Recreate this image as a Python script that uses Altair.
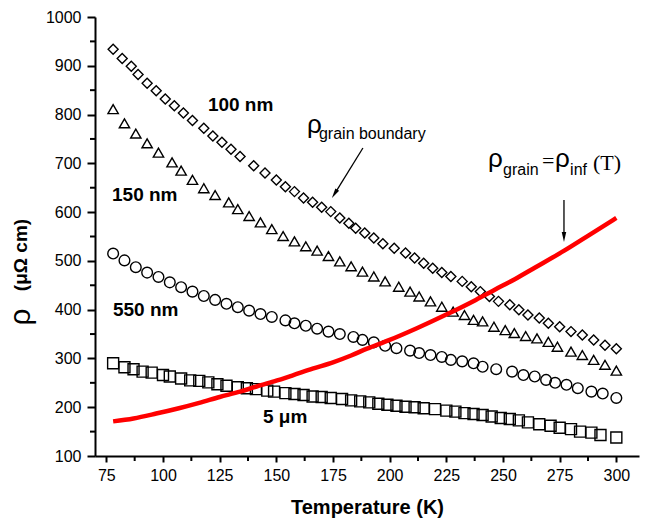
import altair as alt
import pandas as pd

# ---- data ----
T_100 = [78,82,86,89,93,97,101,105,109,113,118,122,126,130,134,140,145,150,154,158,162,166,170,174,178,182,185,189,193,197,202,207,211,215,219,223,227,232,236,240,244,248,253,257,261,266,270,275,280,285,290,295,300]
R_100 = [934,915,899,882,864,849,832,818,803,788,772,756,743,729,714,695,680,666,652,642,629,620,610,601,588,577,567,557,547,535,526,516,506,495,485,476,468,458,447,437,427,417,410,400,389,383,372,365,355,348,338,327,320]

T_150 = [78,83,88,93,98,104,108,113,118,123,129,133,138,143,148,153,158,163,168,173,178,183,188,193,198,204,209,213,218,223,228,233,237,241,246,251,255,260,265,270,274,280,285,290,295,300]
R_150 = [811,782,761,741,722,702,685,666,649,635,620,606,592,579,565,551,540,530,521,510,499,489,478,468,458,447,437,427,417,406,396,389,379,376,365,358,352,346,341,334,324,314,307,297,287,275]

T_550 = [78,83,88,93,98,103,108,113,118,123,128,133,138,143,148,154,158,163,168,173,178,184,188,193,198,203,209,213,218,223,227,232,237,241,247,254,259,264,269,273,278,283,289,294,300]
R_550 = [515,501,487,476,467,456,446,437,428,420,412,405,398,391,385,378,372,367,361,355,350,344,338,333,326,321,316,311,307,303,297,294,290,283,278,273,266,263,256,250,246,239,232,228,219]

T_5um = [78,83,87,91,95,100,103,108,112,116,120,124,128,133,137,141,146,149,154,158,162,166,170,174,179,183,187,191,195,199,203,207,211,215,220,225,229,233,237,241,245,249,253,257,261,266,271,275,280,284,289,293,300]
R_5um = [290,282,278,273,271,266,263,259,255,254,251,247,244,241,239,237,234,232,229,227,225,222,221,219,217,214,212,210,207,205,203,201,200,198,196,193,191,188,186,184,181,178,176,173,169,165,162,158,155,150,148,143,138]

T_grain = [78,87,97,107,116,125,134,141,149,157,166,175,183,190,200,212,225,238,246,255,264,277,288,300]
R_grain = [171,177,187,198,209,221,232,242,253,265,279,292,306,320,338,362,390,420,440,462,486,521,553,588]

series_names = ["100 nm", "150 nm", "550 nm", "5 um"]
series_shapes = ["diamond", "triangle-up", "circle", "square"]
series_sizes = [100, 121, 64, 81]

x_ticks = [75, 100, 125, 150, 175, 200, 225, 250, 275, 300]
x_minor = [87.5, 112.5, 137.5, 162.5, 187.5, 212.5, 237.5, 262.5, 287.5]
y_ticks = [100, 200, 300, 400, 500, 600, 700, 800, 900, 1000]
y_minor = [150, 250, 350, 450, 550, 650, 750, 850, 950]

# size labels (bold)
lab_text = ["100 nm", "150 nm", "550 nm", "5 \u03bcm"]
lab_T = [119.8, 77.5, 77.9, 144.1]
lab_R = [820, 636, 399, 179]

# annotation pieces
big_rho_text = ["\u03c1", "\u03c1", "\u03c1"]
big_rho_T = [163.5, 243.4, 272.9]
big_rho_R = [762, 692.5, 692.5]
sub_text = ["grain boundary", "grain", "inf"]
sub_T = [168.8, 250.0, 279.6]
sub_R = [749, 676, 676]
serif_text = ["=", "(T)"]
serif_T = [267.2, 289.7]
serif_R = [690.4, 686.3]

arrow_T1 = [188.2, 276.9]
arrow_R1 = [731.4, 624.8]
arrow_T2 = [175.7, 276.9]
arrow_R2 = [637.5, 549.0]
arrow_angle = [212, 180]

ytitle_rho = ["\u03c1"]
ytitle_unit = ["(\u03bc\u03a9 cm)"]

# ---- build tables ----
rows = []
for name, Ts, Rs in zip(series_names, [T_100, T_150, T_550, T_5um], [R_100, R_150, R_550, R_5um]):
    for t, r in zip(Ts, Rs):
        rows.append({"series": name, "T": t, "rho": r})
pts = pd.DataFrame(rows)
grain = pd.DataFrame({"T": T_grain, "rho": R_grain})

FONT = "Liberation Sans"
xs = alt.Scale(domain=[70, 310], nice=False, zero=False)
ys = alt.Scale(domain=[100, 1000], nice=False, zero=False)

x_axis = alt.Axis(values=x_ticks, format="d", tickSize=6, tickWidth=2, tickColor="black",
                  domainWidth=2, domainColor="black", grid=False,
                  labelFont=FONT, labelFontSize=16, labelColor="black", labelPadding=5,
                  title="Temperature (K)", titleFont=FONT, titleFontSize=20,
                  titleFontWeight="bold", titleColor="black", titlePadding=14)
y_axis = alt.Axis(values=y_ticks, format="d", tickSize=8, tickWidth=2, tickColor="black",
                  domainWidth=2, domainColor="black", grid=False,
                  labelFont=FONT, labelFontSize=16, labelColor="black", labelPadding=6,
                  title=None)

points = alt.Chart(pts).mark_point(filled=False, strokeWidth=1.4, color="black", opacity=1).encode(
    x=alt.X("T:Q", scale=xs, axis=x_axis),
    y=alt.Y("rho:Q", scale=ys, axis=y_axis),
    shape=alt.Shape("series:N", scale=alt.Scale(domain=series_names, range=series_shapes), legend=None),
    size=alt.Size("series:N", scale=alt.Scale(domain=series_names, range=series_sizes), legend=None),
)

line = alt.Chart(grain).mark_line(color="#ff0000", strokeWidth=4.5, interpolate="monotone").encode(
    x=alt.X("T:Q", scale=xs), y=alt.Y("rho:Q", scale=ys))

xminor = alt.Chart(pd.DataFrame({"T": x_minor})).mark_rule(color="black", strokeWidth=2).encode(
    x=alt.X("T:Q", scale=xs), y=alt.value(439), y2=alt.value(444))
yminor = alt.Chart(pd.DataFrame({"rho": y_minor})).mark_rule(color="black", strokeWidth=2).encode(
    y=alt.Y("rho:Q", scale=ys), x=alt.value(0), x2=alt.value(-5))

labels = alt.Chart(pd.DataFrame({"t": lab_text, "T": lab_T, "rho": lab_R})).mark_text(
    font=FONT, fontSize=19, fontWeight="bold", align="left", baseline="middle", color="black").encode(
    x=alt.X("T:Q", scale=xs), y=alt.Y("rho:Q", scale=ys), text="t:N")

rho_big = alt.Chart(pd.DataFrame({"t": big_rho_text, "T": big_rho_T, "rho": big_rho_R})).mark_text(
    font=FONT, fontSize=26, align="left", baseline="alphabetic", color="black").encode(
    x=alt.X("T:Q", scale=xs), y=alt.Y("rho:Q", scale=ys), text="t:N")

subs = alt.Chart(pd.DataFrame({"t": sub_text, "T": sub_T, "rho": sub_R})).mark_text(
    font=FONT, fontSize=16, align="left", baseline="alphabetic", color="black").encode(
    x=alt.X("T:Q", scale=xs), y=alt.Y("rho:Q", scale=ys), text="t:N")

serif = alt.Chart(pd.DataFrame({"t": serif_text, "T": serif_T, "rho": serif_R})).mark_text(
    font="Liberation Serif", fontSize=22, align="left", baseline="alphabetic", color="black").encode(
    x=alt.X("T:Q", scale=xs), y=alt.Y("rho:Q", scale=ys), text="t:N")

arrows = pd.DataFrame({"T1": arrow_T1, "R1": arrow_R1, "T2": arrow_T2, "R2": arrow_R2, "ang": arrow_angle})
arrow_lines = alt.Chart(arrows).mark_rule(color="black", strokeWidth=1.3).encode(
    x=alt.X("T1:Q", scale=xs), y=alt.Y("R1:Q", scale=ys), x2="T2:Q", y2="R2:Q")
arrow_heads = alt.Chart(arrows).mark_point(shape="M0,-1L0.45,1L-0.45,1Z", filled=True, color="black",
                                           size=100, opacity=1).encode(
    x=alt.X("T2:Q", scale=xs), y=alt.Y("R2:Q", scale=ys), angle=alt.Angle("ang:Q", scale=None))

yt_rho = alt.Chart(pd.DataFrame({"t": ytitle_rho})).mark_text(
    font=FONT, fontSize=30, angle=270, align="center", baseline="middle", color="black").encode(
    x=alt.value(-74), y=alt.value(300), text="t:N")
yt_unit = alt.Chart(pd.DataFrame({"t": ytitle_unit})).mark_text(
    font=FONT, fontSize=19, fontWeight="bold", angle=270, align="center", baseline="middle", color="black").encode(
    x=alt.value(-74), y=alt.value(238), text="t:N")

chart = alt.layer(points, line, xminor, yminor, labels, rho_big, subs, serif,
                  arrow_lines, arrow_heads, yt_rho, yt_unit).properties(
    width=544, height=439,
    padding={"left": 95, "top": 17, "right": 6, "bottom": 69},
    autosize=alt.AutoSizeParams(type="none"),
    background="white",
).configure_view(stroke=None)

chart.save("out.html", embed_options={"renderer": "svg", "actions": False})
